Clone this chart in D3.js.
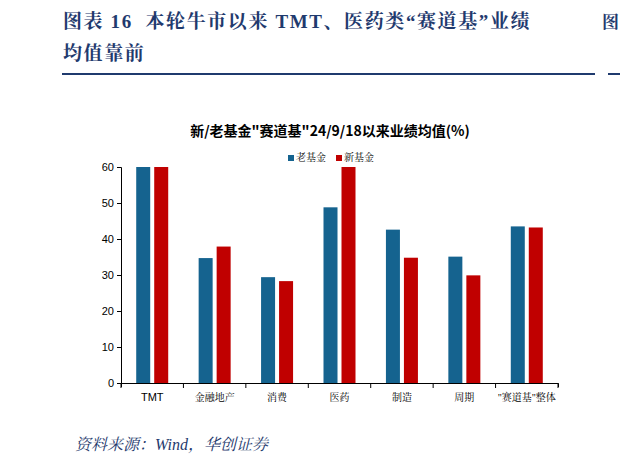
<!DOCTYPE html><html><head><meta charset="utf-8"><script src="https://cdn.jsdelivr.net/npm/d3@7"></script>
<style>body{margin:0;background:#fff}</style></head><body><svg id="c" width="620" height="465"></svg><script>
const categories=["TMT","金融地产","消费","医药","制造","周期","\"赛道基\"整体"];
const oldFund=[60,34.7,29.4,48.8,42.6,35.1,43.5];
const newFund=[60,37.9,28.3,60,34.8,29.9,43.2];
const yTicks=[0,10,20,30,40,50,60];
const svg=d3.select("#c");
const serif="'Liberation Serif','Noto Serif CJK SC','Noto Sans CJK SC',serif";
const t=svg.append("text").attr("fill","#1f3a6e").attr("font-family",serif).attr("font-weight","bold").attr("font-size",19).attr("letter-spacing",1.6).attr("xml:space","preserve");
t.append("tspan").attr("x",63).attr("y",28).text("图表 16  本轮牛市以来 TMT、医药类“赛道基”业绩");
t.append("tspan").attr("x",63).attr("y",60).text("均值靠前");
svg.append("rect").attr("x",62).attr("y",73).attr("width",533).attr("height",2).attr("fill","#1f3a6e");
svg.append("rect").attr("x",608).attr("y",73).attr("width",12).attr("height",2).attr("fill","#1f3a6e");
svg.append("text").attr("x",602).attr("y",28).attr("fill","#1f3a6e").attr("font-family",serif).attr("font-weight","bold").attr("font-size",17).text("图");
svg.append("text").attr("x",330).attr("y",136).attr("text-anchor","middle").attr("font-family","'Noto Sans CJK SC',sans-serif").attr("font-weight","bold").attr("font-size",14).text("新/老基金\"赛道基\"24/9/18以来业绩均值(%)");
const x=d3.scaleBand().domain(categories).range([121,558]);
const y=d3.scaleLinear().domain([0,60]).range([383,167]);
const g=svg.append("g");
g.append("g").attr("transform","translate(121,0)").call(d3.axisLeft(y).tickValues(yTicks).tickSize(4)).call(a=>{a.selectAll("text").attr("font-family","Arial,'Liberation Sans'").attr("font-size",11).attr("fill","#000");a.selectAll("line,path").attr("stroke","#000");});
const bw=14,gap=4;
categories.forEach((c,i)=>{
 const cx=x(c)+x.bandwidth()/2;
 g.append("rect").attr("x",cx-gap/2-bw).attr("y",y(oldFund[i])).attr("width",bw).attr("height",y(0)-y(oldFund[i])).attr("fill","#15638f");
 g.append("rect").attr("x",cx+gap/2).attr("y",y(newFund[i])).attr("width",bw).attr("height",y(0)-y(newFund[i])).attr("fill","#c00000");
});
const xa=g.append("g").attr("transform","translate(0,383)").call(d3.axisBottom(x).tickSize(4).tickFormat(""));
xa.selectAll("line,path").attr("stroke","#000");
xa.selectAll(".tick line").remove();
categories.concat([""]).forEach((c,i)=>{const xx=121+i*x.step();g.append("line").attr("x1",xx).attr("x2",xx).attr("y1",383).attr("y2",388).attr("stroke","#000");});
categories.forEach(c=>g.append("text").attr("x",x(c)+x.bandwidth()/2).attr("y",401).attr("text-anchor","middle").attr("font-family",c==="TMT"?"Arial,'Liberation Sans'":serif).attr("font-size",c==="TMT"?11:10).text(c));
const leg=svg.append("g").attr("font-family",serif).attr("font-size",10);
[["老基金","#15638f",288],["新基金","#c00000",336]].forEach(([n,col,lx])=>{leg.append("rect").attr("x",lx).attr("y",155).attr("width",6).attr("height",6).attr("fill",col);leg.append("text").attr("x",lx+8).attr("y",161).text(n);});
svg.append("text").attr("x",75).attr("y",450).attr("fill","#1f3a6e").attr("font-family",serif).attr("font-style","italic").attr("font-size",16).text("资料来源：Wind，华创证券");
</script></body></html>
